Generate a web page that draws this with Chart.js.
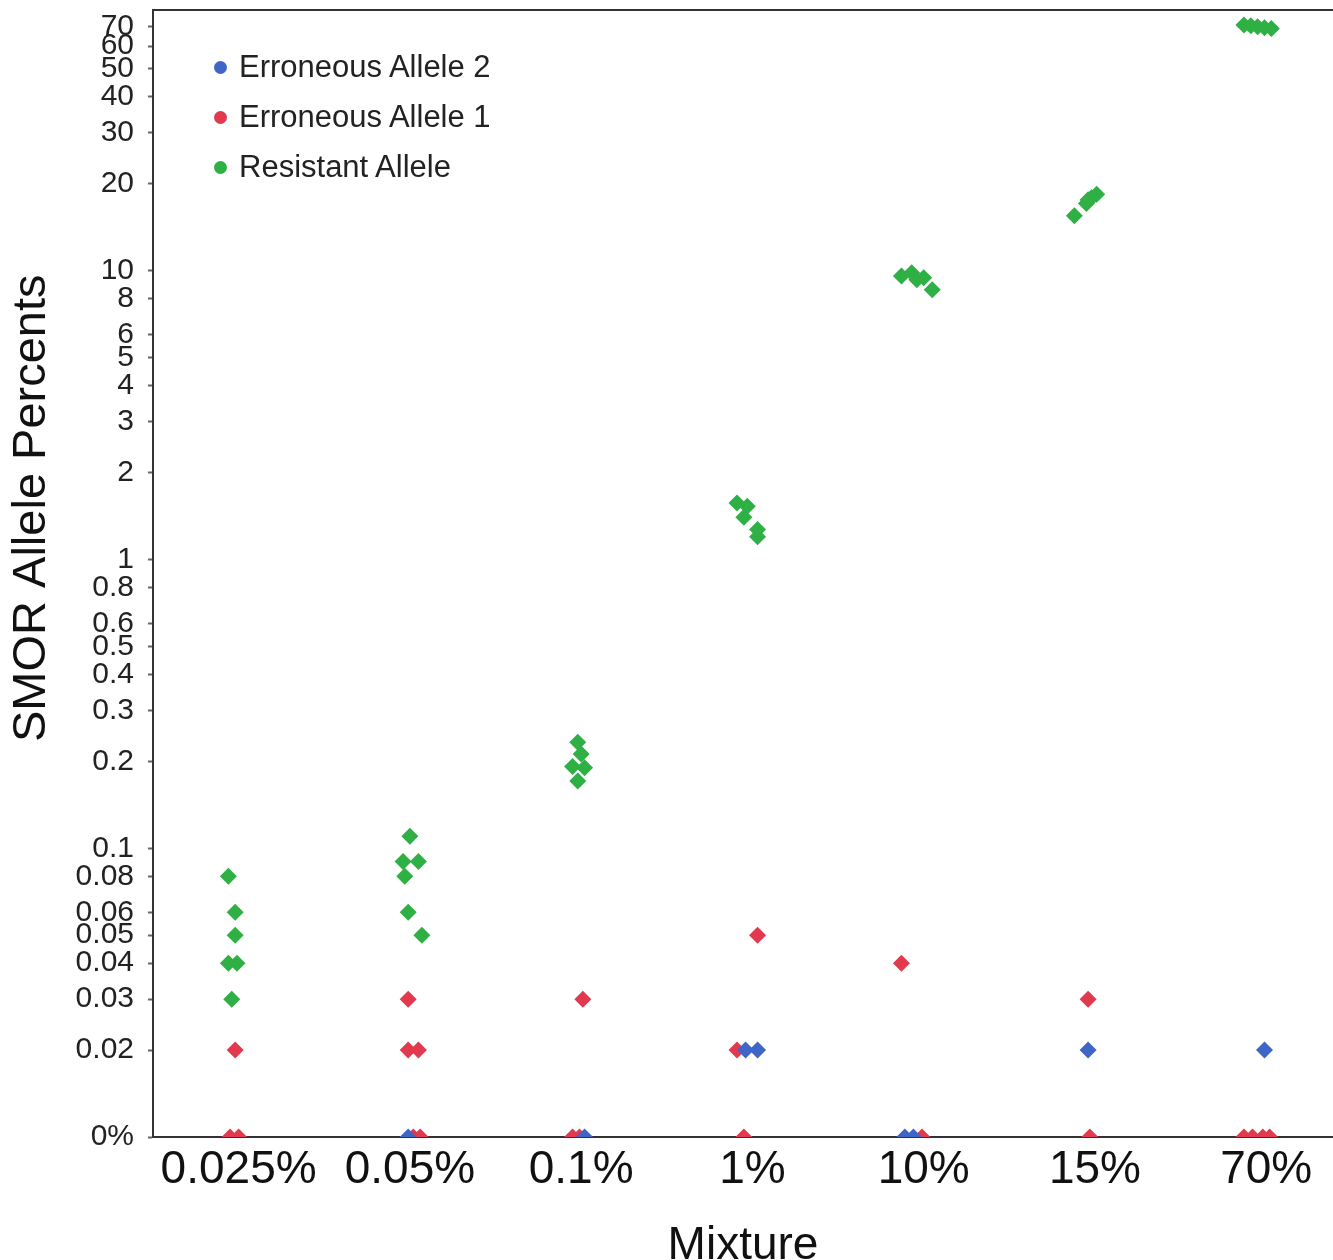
<!DOCTYPE html>
<html lang="en">
<head>
  <meta charset="UTF-8" />
  <title>SMOR Allele Percents by Mixture</title>
  <script src="https://cdn.jsdelivr.net/npm/chart.js"></script>
  <style>
    html, body { margin: 0; padding: 0; background: #fff; overflow: hidden; }
    #wrap { position: relative; width: 1333px; height: 1260px; }
    #chart { display: block; }
    #legend {
      position: absolute;
      left: 214px;
      top: 42px;
      font-family: "Liberation Sans", Arial, sans-serif;
      font-size: 31px;
      color: #222;
    }
    #legend .item { display: flex; align-items: center; height: 50px; }
    #legend .dot { width: 13px; height: 13px; border-radius: 50%; margin-right: 12px; }
  </style>
</head>
<body>
  <div id="wrap">
    <canvas id="chart" width="1333" height="1260"></canvas>
    <div id="legend"></div>
  </div>

  <script>
    const categories = ["0.025%", "0.05%", "0.1%", "1%", "10%", "15%", "70%"];
    const yTickValues = [0, 0.02, 0.03, 0.04, 0.05, 0.06, 0.08, 0.1, 0.2, 0.3, 0.4, 0.5, 0.6, 0.8,
                         1, 2, 3, 4, 5, 6, 8, 10, 20, 30, 40, 50, 60, 70];
    // where "0%" sits on the log axis
    const ZERO_AT = 0.01;

    // points: [category index, horizontal jitter, percent]
    const erroneous2 = [
      [1, -0.01, 0], [2, 0.02, 0],
      [3, -0.04, 0.02], [3, 0.03, 0.02],
      [4, -0.11, 0], [4, -0.06, 0],
      [5, -0.04, 0.02],
      [6, -0.01, 0.02]
    ];
    const erroneous1 = [
      [0, -0.02, 0.02], [0, -0.05, 0], [0, 0.0, 0],
      [1, -0.01, 0.03], [1, -0.01, 0.02], [1, 0.05, 0.02], [1, 0.02, 0], [1, 0.06, 0],
      [2, 0.01, 0.03], [2, -0.05, 0], [2, -0.01, 0],
      [3, 0.03, 0.05], [3, -0.09, 0.02], [3, -0.05, 0],
      [4, -0.13, 0.04], [4, -0.01, 0],
      [5, -0.04, 0.03], [5, -0.03, 0],
      [6, -0.13, 0], [6, -0.08, 0], [6, -0.02, 0], [6, 0.02, 0]
    ];
    const resistant = [
      [0, -0.06, 0.08], [0, -0.02, 0.06], [0, -0.02, 0.05], [0, -0.06, 0.04], [0, -0.01, 0.04], [0, -0.04, 0.03],
      [1, 0.0, 0.11], [1, -0.04, 0.09], [1, 0.05, 0.09], [1, -0.03, 0.08], [1, -0.01, 0.06], [1, 0.07, 0.05],
      [2, -0.02, 0.233], [2, 0.0, 0.212], [2, -0.05, 0.192], [2, 0.02, 0.19], [2, -0.02, 0.171],
      [3, -0.09, 1.57], [3, -0.03, 1.53], [3, -0.05, 1.40], [3, 0.03, 1.27], [3, 0.03, 1.20],
      [4, -0.13, 9.6], [4, -0.07, 9.84], [4, -0.04, 9.3], [4, 0.0, 9.45], [4, 0.05, 8.6],
      [5, -0.12, 15.5], [5, -0.05, 17.1], [5, -0.02, 17.9], [5, 0.01, 18.4], [5, -0.04, 17.6],
      [6, -0.13, 71], [6, -0.09, 70.5], [6, -0.05, 70], [6, -0.01, 69.5], [6, 0.03, 69]
    ];

    const toPoints = arr => arr.map(([c, j, v]) => ({ x: c + j, y: v === 0 ? ZERO_AT : v }));

    const series = [
      { label: "Erroneous Allele 2", data: erroneous2, color: "#3f66c6" },
      { label: "Erroneous Allele 1", data: erroneous1, color: "#e13a4f" },
      { label: "Resistant Allele", data: resistant, color: "#2fb045" }
    ];

    const datasets = series.map(s => ({
      label: s.label,
      data: toPoints(s.data),
      backgroundColor: s.color,
      borderWidth: 0,
      pointStyle: "rectRot",
      pointRadius: 8.5,
      clip: 0
    }));

    const font = "'Liberation Sans', Arial, sans-serif";

    const ctx = document.getElementById("chart").getContext("2d");
    new Chart(ctx, {
      type: "scatter",
      data: { datasets },
      options: {
        responsive: false,
        animation: false,
        layout: { autoPadding: false, padding: { top: 2, right: 0, bottom: 0, left: 0 } },
        plugins: { legend: { display: false }, tooltip: { enabled: false } },
        scales: {
          x: {
            type: "linear",
            position: "bottom",
            min: -0.5,
            max: 6.39,
            afterBuildTicks: scale => { scale.ticks = categories.map((_, i) => ({ value: i })); },
            afterFit: scale => { scale.height = 123; scale.paddingRight = 0; scale.paddingLeft = 0; },
            ticks: {
              callback: v => categories[v] ?? "",
              autoSkip: false,
              maxRotation: 0,
              padding: -2,
              color: "#111",
              font: { family: font, size: 46 }
            },
            grid: { display: false },
            border: { color: "#333", width: 2 },
            title: {
              display: true,
              text: "Mixture",
              color: "#111",
              font: { family: font, size: 46 },
              padding: { top: 0, bottom: -14 }
            }
          },
          xTop: {
            type: "linear",
            position: "top",
            min: -0.5,
            max: 6.39,
            grid: { display: false },
            ticks: { display: false },
            border: { color: "#333", width: 2 }
          },
          y: {
            type: "logarithmic",
            min: ZERO_AT,
            max: 80,
            afterBuildTicks: scale => {
              scale.ticks = yTickValues.map(v => ({ value: v === 0 ? ZERO_AT : v }));
            },
            afterFit: scale => { scale.width = 153; scale.paddingTop = 0; scale.paddingBottom = 0; },
            ticks: {
              autoSkip: false,
              padding: 14,
              color: "#222",
              font: { family: font, size: 30 },
              callback: v => (v <= ZERO_AT * 1.001 ? "0%" : String(+v.toPrecision(3)))
            },
            grid: { drawOnChartArea: false, tickLength: 5, tickColor: "#666", tickWidth: 2 },
            border: { color: "#333", width: 2 },
            title: {
              display: true,
              text: " ".repeat(10) + "SMOR Allele Percents",
              color: "#111",
              font: { family: font, size: 47 },
              padding: { top: 4, bottom: 0 }
            }
          }
        }
      }
    });

    // legend inside the plot, top left
    const legendEl = document.getElementById("legend");
    series.forEach(s => {
      const item = document.createElement("div");
      item.className = "item";
      const dot = document.createElement("span");
      dot.className = "dot";
      dot.style.background = s.color;
      item.appendChild(dot);
      item.appendChild(document.createTextNode(s.label));
      legendEl.appendChild(item);
    });
  </script>
</body>
</html>
